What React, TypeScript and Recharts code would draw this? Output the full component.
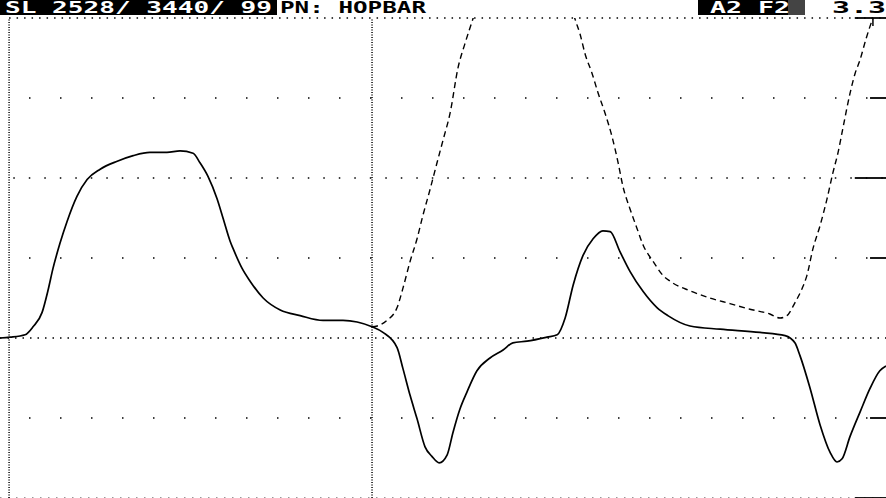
import { Line, LineChart, ReferenceLine, XAxis, YAxis } from 'recharts'

// time in ms (1 ms per minor division), volts per division
const solidTime = [
  -0.25, 0.03, 0.44, 0.66, 0.91, 1.07, 1.21, 1.4, 1.6, 1.87, 2.15, 2.51, 2.98, 3.42, 3.88, 4.35,
  4.71, 5.07, 5.26, 5.48, 5.73, 5.9, 6.09, 6.17, 6.42, 6.64, 7.0, 7.47, 8.02, 8.65, 9.2, 9.59,
  10.0, 10.3, 10.69, 10.85, 11.05, 11.24, 11.46, 11.65, 11.85, 12.07, 12.23, 12.42, 12.62, 12.89,
  13.25, 13.61, 13.88, 14.27, 14.82, 15.1, 15.32, 15.54, 15.81, 16.09, 16.36, 16.56, 16.83, 17.11,
  17.47, 17.85, 18.15, 18.76, 19.59, 20.69, 21.38, 21.65, 21.79, 22.07, 22.34, 22.62, 22.81, 22.95,
  23.17, 23.45, 23.72, 23.99, 24.16,
]
const solidVolts = [
  0, 0.01, 0.04, 0.14, 0.32, 0.59, 0.87, 1.18, 1.46, 1.77, 1.98, 2.11, 2.21, 2.28, 2.32, 2.32,
  2.34, 2.31, 2.19, 2.02, 1.74, 1.49, 1.21, 1.12, 0.87, 0.71, 0.5, 0.35, 0.28, 0.22, 0.22, 0.2,
  0.14, 0.07, -0.12, -0.38, -0.72, -1.01, -1.36, -1.48, -1.56, -1.46, -1.18, -0.89, -0.67, -0.41,
  -0.25, -0.15, -0.06, -0.04, 0.01, 0.04, 0.25, 0.66, 1.03, 1.24, 1.34, 1.33, 1.08, 0.83,
  0.58, 0.38, 0.28, 0.15, 0.11, 0.07, 0.03, -0.06, -0.22, -0.63, -1.08, -1.43, -1.55, -1.51,
  -1.23, -0.92, -0.63, -0.41, -0.35,
]

const dashTime = [
  10.0, 10.14, 10.41, 10.69, 10.85, 11.05, 11.24, 11.4, 11.6, 11.79, 11.96, 12.15, 12.37, 12.56,
  12.78, 12.98, 14.2, 15.45, 15.59, 15.73, 15.87, 16.06, 16.23, 16.42, 16.61, 16.78, 16.91, 17.11,
  17.3, 17.47, 17.74, 18.02, 18.21, 18.76, 19.31, 19.86, 20.41, 20.96, 21.24, 21.43, 21.65, 21.85,
  21.98, 22.15, 22.34, 22.53, 22.7, 22.84, 22.98, 23.17, 23.31, 23.44, 23.61, 23.8, 23.99,
]
const dashVolts = [
  0.14, 0.15, 0.22, 0.38, 0.62, 0.96, 1.24, 1.53, 1.86, 2.19, 2.48, 2.81, 3.38, 3.68,
  3.99, 4.27, 6.4, 4.21, 3.99, 3.8, 3.55, 3.31, 3.06, 2.81, 2.52, 2.19, 1.9, 1.61,
  1.37, 1.16, 0.96, 0.78, 0.71, 0.59, 0.5, 0.43, 0.36, 0.3, 0.25, 0.28, 0.44, 0.62,
  0.78, 1.12, 1.4, 1.73, 2.07, 2.32, 2.64, 3.06, 3.31, 3.47, 3.74, 4.0, 4.21,
]

const gridRows = [4, 3, 2, 1, 0, -1, -2]
const gridCols = [0, 10]
const edgeTickRows = [4, 3, 2, 1, -1, -2]

const solidData = solidTime.map((t, i) => ({ t, v: solidVolts[i] }))
const dashData = dashTime.map((t, i) => ({ t, v: dashVolts[i] }))

const X_MIN = -0.25
const X_MAX = 24.16

function rowStyle(row: number) {
  if (row === 4 || row === 0) return { dash: '1.5 6', offset: 0, color: '#000' }
  if (row === -2) return { dash: '1.5 6.5', offset: 0, color: '#777' }
  if (row === 2) return { dash: '1.5 14', offset: 2.2, color: '#000' }
  return { dash: '1.5 29.5', offset: 2, color: '#000' }
}

function Header() {
  const font = { fontFamily: 'DejaVu Sans Mono', fontWeight: 700, fontSize: 15 }
  return (
    <svg
      width={886}
      height={17}
      style={{ position: 'absolute', left: 0, top: 0 }}
    >
      <rect x={0} y={0} width={277} height={15} fill="#000" />
      <text x={5} y={12.5} fill="#fff" textLength={267} lengthAdjust="spacingAndGlyphs" {...font}>
        SL 2528/ 3440/ 99
      </text>
      <text x={280} y={12.5} fill="#000" textLength={146} lengthAdjust="spacingAndGlyphs" {...font}>
        PN: HOPBAR
      </text>
      <rect x={698} y={0} width={107} height={15} fill="#000" />
      <rect x={788} y={0} width={17} height={15} fill="#444" />
      <text x={710} y={12.5} fill="#fff" textLength={80} lengthAdjust="spacingAndGlyphs" {...font}>
        A2 F2
      </text>
      <text x={832} y={12.5} fill="#000" textLength={54} lengthAdjust="spacingAndGlyphs" {...font}>
        3.3
      </text>
    </svg>
  )
}

export default function App() {
  return (
    <div style={{ position: 'relative', width: 886, height: 498, background: '#fff' }}>
      <style>{'body { margin: 0; background: #fff; }'}</style>
      <LineChart
        width={886}
        height={498}
        margin={{ top: 18, right: 0, bottom: 0, left: 0 }}
      >
        <XAxis
          dataKey="t"
          type="number"
          domain={[X_MIN, X_MAX]}
          allowDataOverflow
          hide
        />
        <YAxis type="number" domain={[-2, 4]} allowDataOverflow hide />
        {gridRows.map((row) => {
          const s = rowStyle(row)
          return (
            <ReferenceLine
              key={`r${row}`}
              segment={[
                { x: row === 4 ? 0 : X_MIN, y: row },
                { x: X_MAX, y: row },
              ]}
              stroke={s.color}
              strokeWidth={1.5}
              strokeDasharray={s.dash}
              strokeDashoffset={s.offset}
            />
          )
        })}
        {gridCols.map((col) => (
          <ReferenceLine
            key={`c${col}`}
            x={col}
            stroke="#000"
            strokeWidth={1.5}
            strokeDasharray="1 1.5"
          />
        ))}
        {edgeTickRows.map((row) => (
          <ReferenceLine
            key={`e${row}`}
            segment={[
              { x: row === 2 || row === -2 || row === 4 ? 23.3 : 23.72, y: row },
              { x: X_MAX, y: row },
            ]}
            stroke="#000"
            strokeWidth={1.8}
          />
        ))}
        <ReferenceLine
          segment={[
            { x: 23.8, y: 4 },
            { x: 23.8, y: 3.9 },
          ]}
          stroke="#000"
          strokeWidth={1.5}
        />
        <Line
          data={dashData}
          dataKey="v"
          type="monotone"
          stroke="#000"
          strokeWidth={1.4}
          strokeDasharray="6 4"
          dot={false}
          activeDot={false}
          isAnimationActive={false}
        />
        <Line
          data={solidData}
          dataKey="v"
          type="monotone"
          stroke="#000"
          strokeWidth={1.7}
          dot={false}
          activeDot={false}
          isAnimationActive={false}
        />
      </LineChart>
      <Header />
    </div>
  )
}
